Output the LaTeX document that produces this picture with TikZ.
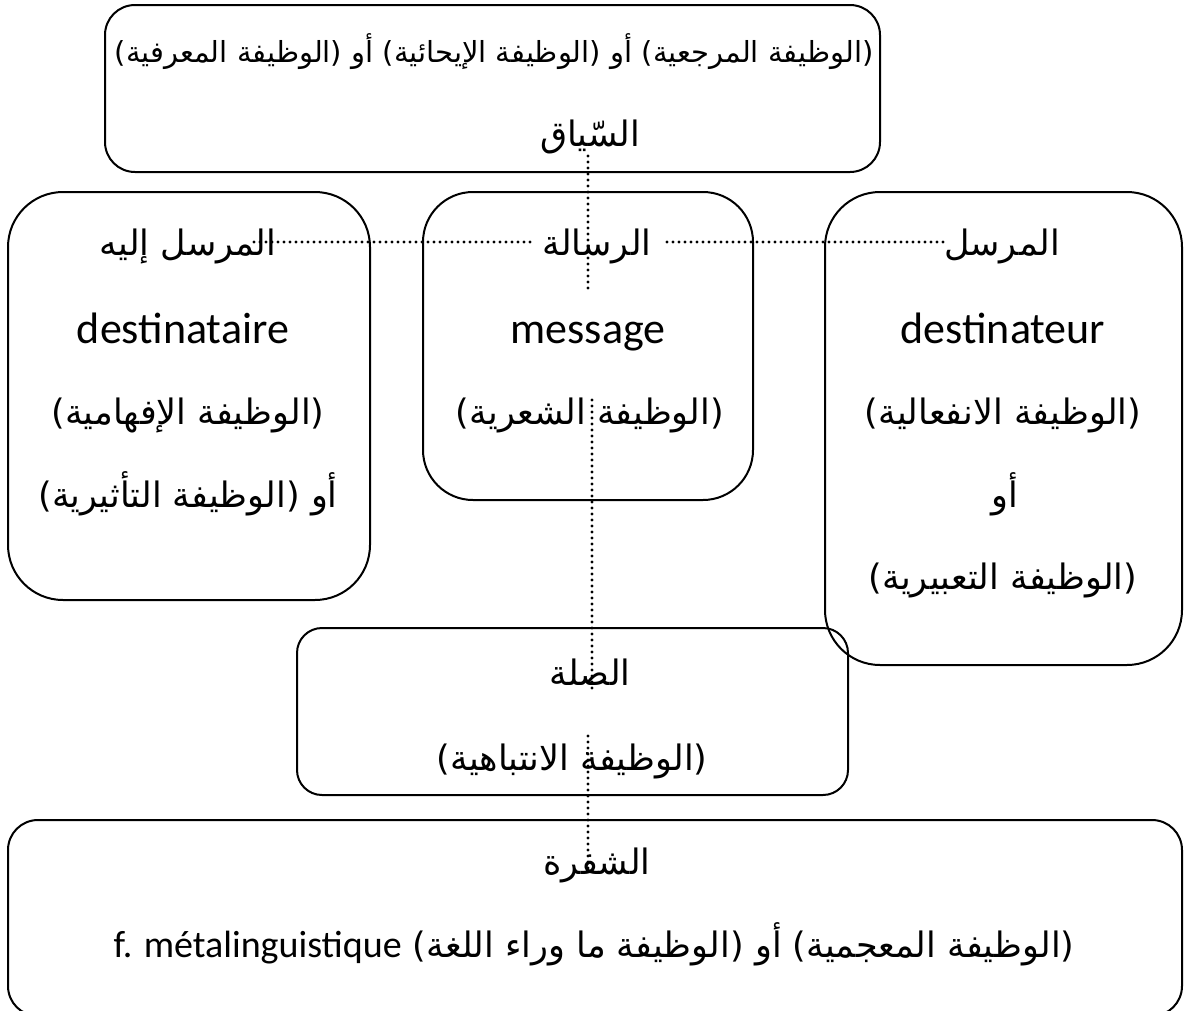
\documentclass[tikz,border=0pt]{standalone}
\usepackage{fontspec}
\setmainfont{Carlito}
\newfontfamily\arabicfont[Script=Arabic]{DejaVu Sans}
\TeXXeTstate=1
\newcommand{\ar}[1]{{\arabicfont\fontsize{35}{40}\selectfont\beginR #1\endR}}
\newcommand{\arsm}[1]{{\arabicfont\fontsize{29}{34}\selectfont\beginR #1\endR}}
\newcommand{\la}[1]{{\fontsize{44}{50}\selectfont #1}}
\begin{document}
\begin{tikzpicture}[x=1pt,y=-1pt,
  box/.style={draw=black,line width=2pt},
  txt/.style={inner sep=0pt,anchor=base},
  link/.style={line width=3.2pt,dash pattern=on 0pt off 6pt,line cap=round}]
\useasboundingbox (0,0) rectangle (1184,1010);
\fill[white] (0,0) rectangle (1184,1010);
% boxes
\draw[box,rounded corners=30pt] (105,5) rectangle (880,172);
\draw[box,rounded corners=55pt] (8,192) rectangle (370,600);
\draw[box,rounded corners=50pt] (423,192) rectangle (753,500);
\draw[box,rounded corners=55pt] (825,192) rectangle (1182,665);
\draw[box,rounded corners=25pt] (297,628) rectangle (848,795);
\draw[box,rounded corners=30pt] (8,820) rectangle (1182,1016);
% texts
\node[txt] (ctxA) at (494,62) {\arsm{(الوظيفة المرجعية) أو (الوظيفة الإيحائية) أو (الوظيفة المعرفية)}};
\node[txt] (ctx) at (590,146) {\ar{السّياق}};
\node[txt] (recv) at (188,255) {\ar{المرسل إليه}};
\node[txt] (recvB) at (183,343) {\la{destinataire}};
\node[txt] (recvC) at (188,424) {\ar{(الوظيفة الإفهامية)}};
\node[txt] (recvD) at (188,507) {\ar{أو (الوظيفة التأثيرية)}};
\node[txt] (msg) at (597,255) {\ar{الرسالة}};
\node[txt] (msgB) at (588,343) {\la{message}};
\node[txt] (msgC) at (590,424) {\ar{(الوظيفة الشعرية)}};
\node[txt] (send) at (1002,255) {\ar{المرسل}};
\node[txt] (sendB) at (1003,343) {\la{destinateur}};
\node[txt] (sendC) at (1003,424) {\ar{(الوظيفة الانفعالية)}};
\node[txt] (sendD) at (1005,507) {\ar{أو}};
\node[txt] (sendE) at (1003,589) {\ar{(الوظيفة التعبيرية)}};
\node[txt] (phat) at (590,685) {\ar{الصلة}};
\node[txt] (phatB) at (572,770) {\ar{(الوظيفة الانتباهية)}};
\node[txt] (code) at (597,874) {\ar{الشفرة}};
\node[txt] (codeB) at (594,957) {\ar{(الوظيفة المعجمية) أو (الوظيفة ما وراء اللغة) \beginL{\normalfont\fontsize{38}{44}\selectfont f. métalinguistique}\endL{}}};
% connector end points
\coordinate (ctxTop) at (588,156);
\coordinate (msgMid) at (588,292);
\coordinate (poetTop) at (592,400);
\coordinate (phatMid) at (592,690);
\coordinate (phatLow) at (588,736);
\coordinate (codeTop) at (588,868);
\coordinate (recvR) at (254,242);
\coordinate (msgL) at (530,242);
\coordinate (msgR) at (667,242);
\coordinate (sendL) at (944,242);
% connectors
\draw[link] (ctxTop) -- (msgMid);
\draw[link] (recvR) -- (msgL);
\draw[link] (msgR) -- (sendL);
\draw[link] (poetTop) -- (phatMid);
\draw[link] (phatLow) -- (codeTop);
\end{tikzpicture}
\end{document}
